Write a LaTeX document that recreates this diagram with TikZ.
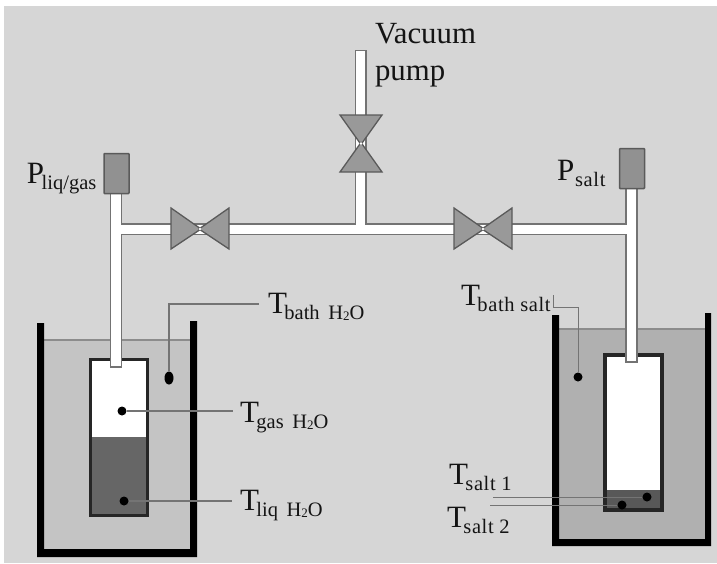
\documentclass[tikz,border=0pt]{standalone}
\usepackage{fontspec}
\usetikzlibrary{shapes.geometric}
\setmainfont{Liberation Serif}
\definecolor{bgc}{HTML}{D6D6D6}
\definecolor{bathL}{HTML}{C4C4C4}
\definecolor{bathR}{HTML}{B0B0B0}
\definecolor{liqc}{HTML}{666666}
\definecolor{saltc}{HTML}{585858}
\definecolor{valvec}{HTML}{999999}
\definecolor{edgec}{HTML}{5A5A5A}
\definecolor{leadc}{HTML}{747474}
\newcommand{\biglab}[2]{{\fontsize{31}{31}\selectfont #1\kern-2.5pt\raisebox{-6pt}{\fontsize{20.5}{21}\selectfont #2}}}
\newcommand{\spaced}[1]{{\addfontfeatures{LetterSpace=3}#1}}
\newcommand{\wat}{H\raisebox{-1pt}{\fontsize{13}{13}\selectfont 2}O}
\tikzset{
  x=1pt,y=-1pt,
  txt/.style={anchor=base west,inner sep=0pt,outer sep=0pt,text=black!92},
  wall/.style={fill=black,draw=none},
  pipe/.style={fill=white,draw=edgec!85,line width=1.3pt},
  valvetri/.style={fill=valvec,draw=edgec,line width=1.3pt,line join=miter},
  sensorbox/.style={fill=valvec!95!black,draw=edgec,line width=1.5pt,rounded corners=0.8pt},
  cell/.style={draw=black!85,line width=3.2pt},
  dot/.style={circle,fill=black,draw=none,inner sep=0pt,minimum size=9pt},
  lead/.style={draw=leadc,line width=1.2pt},
  level/.style={draw=black!45,line width=1.2pt},
}
\begin{document}
\begin{tikzpicture}
\useasboundingbox (0,0) rectangle (717,563);
\fill[white] (0,0) rectangle (717,563);
\fill[bgc] (4,6) rectangle (717,563);

% left bath
\fill[bathL] (44,340) rectangle (190,549);
\draw[level] (44,340) -- (190,340);
\fill[wall] (37,323) -- (44,323) -- (44,549) -- (190,549) -- (190,321) -- (197,321) -- (197,557) -- (37,557) -- cycle;
% right bath
\fill[bathR] (559,329) rectangle (705,539);
\draw[level] (559,329) -- (705,329);
\fill[wall] (552,315) -- (559,315) -- (559,539) -- (705,539) -- (705,313) -- (711,313) -- (711,546) -- (552,546) -- cycle;

% left cell
\fill[white] (90.5,359.5) rectangle (147.5,437);
\fill[liqc] (90.5,437) rectangle (147.5,515.5);
\draw[cell] (90.5,359.5) rectangle (147.5,515.5);
% right cell
\fill[white] (605,355) rectangle (662,490);
\fill[saltc] (605,490) rectangle (662,510);
\draw[cell] (605,355) rectangle (662,510);

% pipes
\draw[pipe] (122,224) rectangle (626,234.5);
\draw[pipe] (355.5,50.5) rectangle (366,224);
\fill[white] (356.2,220) rectangle (365.3,225.5);
\draw[pipe] (110.5,190) rectangle (121.5,367);
\fill[white] (119,224.7) rectangle (123,233.8);
\draw[pipe] (626,185) rectangle (637,362);
\fill[white] (624,224.7) rectangle (628,233.8);

% valves
\foreach \vx in {200,483}{
  \draw[valvetri] (\vx-29,208) -- (\vx+1,229) -- (\vx-29,249) -- cycle;
  \draw[valvetri] (\vx+29,208) -- (\vx-1,229) -- (\vx+29,249) -- cycle;
  \fill[white] (\vx,229) circle (1.4pt);
}
\draw[valvetri] (340,115) -- (382,115) -- (361,144.5) -- cycle;
\draw[valvetri] (340,172) -- (382,172) -- (361,142.5) -- cycle;
\fill[white] (361,143.5) circle (1.4pt);

% pressure sensors
\node[sensorbox,minimum width=25pt,minimum height=40pt,inner sep=0pt] (pl) at (116.5,173.5) {};
\node[sensorbox,minimum width=25pt,minimum height=40pt,inner sep=0pt] (pr) at (632,168.5) {};

% sensors
\node[ellipse,fill=black,inner sep=0pt,minimum width=9pt,minimum height=13pt] (dbl) at (169,378) {};
\node[dot] (dgl) at (122,411) {};
\node[dot] (dll) at (124,501) {};
\node[dot] (dbr) at (578,377) {};
\node[dot] (ds1) at (647,497) {};
\node[dot] (ds2) at (622,505) {};

% labels
\node[txt] (vac) at (375,43) {\fontsize{30.8}{31}\selectfont Vacuum};
\node[txt] (pum) at (375,80) {\fontsize{30.8}{31}\selectfont pump};
\node[txt] (lpl) at (27,183) {\biglab{P}{liq/gas}};
\node[txt] (lpr) at (557,180) {\biglab{P}{\,\spaced{salt}}};
\node[txt] (ltb) at (268,313) {\biglab{T}{bath\, \wat}};
\node[txt] (ltg) at (240,422) {\biglab{T}{gas\, \wat}};
\node[txt] (ltq) at (240,510) {\biglab{T}{liq\, \wat}};
\node[txt] (lbs) at (461,305) {\biglab{T}{\spaced{bath salt}}};
\node[txt] (ls1) at (449,484) {\biglab{T}{\spaced{salt 1}}};
\node[txt] (ls2) at (447,527) {\biglab{T}{\spaced{salt 2}}};

% leaders
\coordinate (c1) at (169,304);
\coordinate (c2) at (259,304);
\coordinate (c3) at (233,411);
\coordinate (c4) at (232,501);
\coordinate (c5) at (578,307);
\coordinate (c6) at (553,307);
\coordinate (c7) at (553,295);
\coordinate (c8) at (493,497);
\coordinate (c9) at (490,505);
\draw[lead] (dbl) -- (c1) -- (c2);
\draw[lead] (dgl) -- (c3);
\draw[lead] (dll) -- (c4);
\draw[lead,line width=1pt] (dbr) -- (c5) -- (c6) -- (c7);
\draw[lead,line width=1pt] (ds1) -- (c8);
\draw[lead,line width=1pt] (ds2) -- (c9);
\end{tikzpicture}
\end{document}
